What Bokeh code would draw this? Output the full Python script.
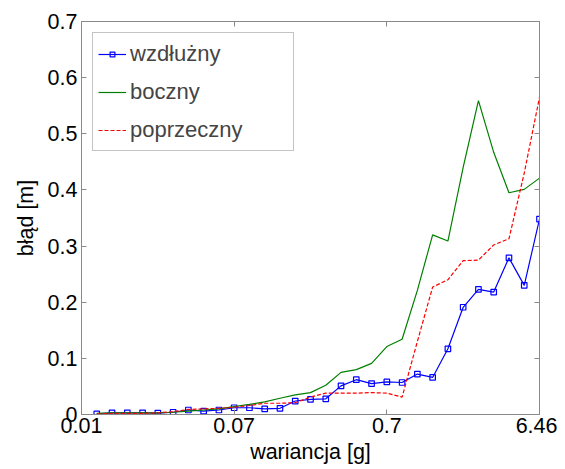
from bokeh.plotting import figure
from bokeh.models import LinearAxis, FixedTicker, Range1d, Legend, LegendItem, ColumnDataSource
from bokeh.embed import file_html
from bokeh.resources import INLINE

idx = list(range(1, 31))
tick_positions = [0, 10, 20, 30]
tick_labels = ["0.01", "0.07", "0.7", "6.46"]

wzdluzny = [0.001, 0.003, 0.003, 0.003, 0.0025, 0.004, 0.008, 0.006, 0.008, 0.012,
            0.012, 0.010, 0.011, 0.024, 0.027, 0.028, 0.051, 0.062, 0.055, 0.058,
            0.057, 0.072, 0.066, 0.117, 0.191, 0.223, 0.218, 0.279, 0.230, 0.348]
boczny = [0.002, 0.003, 0.003, 0.003, 0.003, 0.004, 0.006, 0.008, 0.010, 0.014,
          0.018, 0.0225, 0.029, 0.035, 0.039, 0.052, 0.075, 0.080, 0.091, 0.121,
          0.134, 0.221, 0.320, 0.309, 0.440, 0.559, 0.467, 0.395, 0.401, 0.421]
poprzeczny = [0.001, 0.002, 0.002, 0.002, 0.003, 0.005, 0.009, 0.010, 0.011, 0.013,
              0.016, 0.020, 0.020, 0.021, 0.031, 0.038, 0.038, 0.038, 0.039, 0.038,
              0.031, 0.130, 0.227, 0.240, 0.274, 0.275, 0.302, 0.313, 0.430, 0.565]

src = ColumnDataSource(dict(x=idx, w=wzdluzny, b=boczny, p=poprzeczny))

FONT = "Liberation Sans"
GRAY = "#8a8a8a"

p = figure(width=557, height=466, output_backend="svg", toolbar_location=None,
           x_range=Range1d(0, 30), y_range=Range1d(0, 0.7),
           min_border_left=81, min_border_right=18, min_border_top=21, min_border_bottom=52)
p.grid.visible = False
p.outline_line_color = GRAY
p.outline_line_width = 1
p.background_fill_color = "white"
p.border_fill_color = "white"

def style_axis(ax, show_labels=True):
    ax.axis_line_color = GRAY
    ax.major_tick_line_color = GRAY
    ax.minor_tick_line_color = None
    ax.major_tick_in = 5
    ax.major_tick_out = 0
    if show_labels:
        ax.major_label_text_font = FONT
        ax.major_label_text_font_size = "21.5px"
        ax.major_label_text_color = "black"
        ax.axis_label_text_font = FONT
        ax.axis_label_text_font_size = "21.5px"
        ax.axis_label_text_font_style = "normal"
        ax.axis_label_text_color = "black"
    else:
        ax.major_label_text_font_size = "0px"
        ax.major_label_text_color = None

p.xaxis.ticker = FixedTicker(ticks=tick_positions)
p.xaxis.major_label_overrides = {t: l for t, l in zip(tick_positions, tick_labels)}
p.yaxis.ticker = FixedTicker(ticks=[0, 0.1, 0.2, 0.3, 0.4, 0.5, 0.6, 0.7])
p.yaxis.major_label_overrides = {0: "0", 0.1: "0.1", 0.2: "0.2", 0.3: "0.3",
                                 0.4: "0.4", 0.5: "0.5", 0.6: "0.6", 0.7: "0.7"}
p.xaxis.axis_label = "wariancja [g]"
p.yaxis.axis_label = "błąd [m]"
style_axis(p.xaxis[0])
style_axis(p.yaxis[0])
p.xaxis.major_label_standoff = 3
p.yaxis.major_label_standoff = 4
p.xaxis.axis_label_standoff = 4
p.yaxis.axis_label_standoff = 7

top = LinearAxis(ticker=FixedTicker(ticks=tick_positions))
right = LinearAxis(ticker=FixedTicker(ticks=[0, 0.1, 0.2, 0.3, 0.4, 0.5, 0.6, 0.7]))
style_axis(top, False)
style_axis(right, False)
p.add_layout(top, "above")
p.add_layout(right, "right")

BLUE = "#0000ff"
GREEN = "#008000"
RED = "#ff0000"

lw = p.line("x", "w", source=src, line_color=BLUE, line_width=1.2)
mw = p.scatter("x", "w", source=src, marker="square", size=5.5, fill_color=None,
               line_color=BLUE, line_width=1.2)
lb = p.line("x", "b", source=src, line_color=GREEN, line_width=1.2)
lp = p.line("x", "p", source=src, line_color=RED, line_width=1.2, line_dash="4 2")

legend = Legend(items=[LegendItem(label="wzdłużny", renderers=[lw, mw]),
                       LegendItem(label="boczny", renderers=[lb]),
                       LegendItem(label="poprzeczny", renderers=[lp])],
                location="top_left")
legend.margin = 11
legend.padding = 5
legend.spacing = 7
legend.label_height = 31
legend.glyph_height = 12
legend.glyph_width = 28
legend.label_width = 158
legend.label_standoff = 4
legend.label_text_font = FONT
legend.label_text_font_size = "22px"
legend.border_line_color = GRAY
legend.border_line_width = 1
legend.background_fill_color = "white"
legend.background_fill_alpha = 1
p.add_layout(legend)

open("out.html", "w").write(file_html(p, INLINE))
